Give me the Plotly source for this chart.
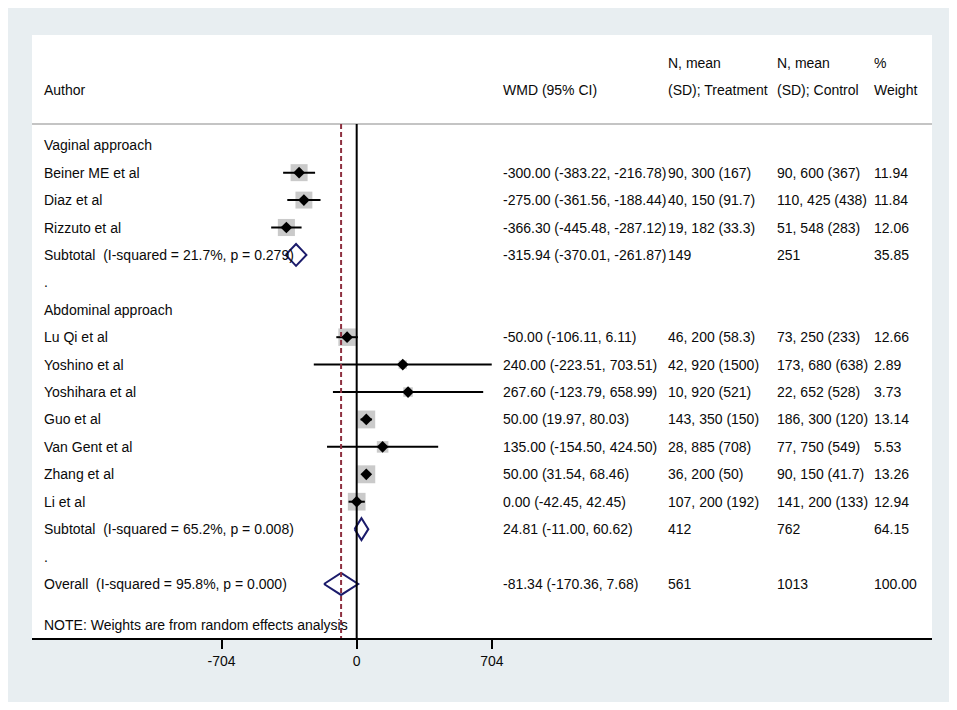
import numpy as np
import plotly.graph_objects as go

# study level data
studies = ["Beiner ME et al", "Diaz et al", "Rizzuto et al",
           "Lu Qi et al", "Yoshino et al", "Yoshihara et al", "Guo et al",
           "Van Gent et al", "Zhang et al", "Li et al"]
groups = ["Vaginal approach"] * 3 + ["Abdominal approach"] * 7
wmd = [-300.00, -275.00, -366.30, -50.00, 240.00, 267.60, 50.00, 135.00, 50.00, 0.00]
ci_low = [-383.22, -361.56, -445.48, -106.11, -223.51, -123.79, 19.97, -154.50, 31.54, -42.45]
ci_high = [-216.78, -188.44, -287.12, 6.11, 703.51, 658.99, 80.03, 424.50, 68.46, 42.45]
treatment = ["90, 300 (167)", "40, 150 (91.7)", "19, 182 (33.3)", "46, 200 (58.3)",
             "42, 920 (1500)", "10, 920 (521)", "143, 350 (150)", "28, 885 (708)",
             "36, 200 (50)", "107, 200 (192)"]
control = ["90, 600 (367)", "110, 425 (438)", "51, 548 (283)", "73, 250 (233)",
           "173, 680 (638)", "22, 652 (528)", "186, 300 (120)", "77, 750 (549)",
           "90, 150 (41.7)", "141, 200 (133)"]
weight = [11.94, 11.84, 12.06, 12.66, 2.89, 3.73, 13.14, 5.53, 13.26, 12.94]

# pooled estimates (two subtotals, then overall)
pooled_labels = ["Subtotal\u00a0 (I-squared = 21.7%, p = 0.279)",
                 "Subtotal\u00a0 (I-squared = 65.2%, p = 0.008)",
                 "Overall\u00a0 (I-squared = 95.8%, p = 0.000)"]
pooled_est = [-315.94, 24.81, -81.34]
pooled_low = [-370.01, -11.00, -170.36]
pooled_high = [-261.87, 60.62, 7.68]
pooled_treat = ["149", "412", "561"]
pooled_ctrl = ["251", "762", "1013"]
pooled_weight = [35.85, 64.15, 100.00]

tick_vals = [-704, 0, 704]
note = "NOTE: Weights are from random effects analysis"

FONT = "Arial, Liberation Sans, sans-serif"
NAVY = "#1b1b6b"

# build the row layout, one row per line of the table
rows = []  # (kind, index)
for g in dict.fromkeys(groups):
    rows.append(("group", g))
    for i, s in enumerate(studies):
        if groups[i] == g:
            rows.append(("study", i))
    rows.append(("pooled", len([r for r in rows if r[0] == "pooled"])))
    rows.append(("dot", None))
rows.append(("pooled", 2))

# text columns, given as page pixels; the plot area spans 32..932
def col(px):
    return (px - 32) / 900

c_author, c_wmd, c_treat, c_ctrl, c_w = col(42), col(501), col(666), col(775), col(872)

annotations = []

def txt(x, y, s):
    annotations.append(dict(x=x, y=y, xref="paper", yref="y", text=s, showarrow=False,
                            xanchor="left", yanchor="middle",
                            font=dict(family=FONT, size=14, color="#0a0a0a")))

# header
txt(c_author, -2, "Author")
txt(c_wmd, -2, "WMD (95% CI)")
txt(c_treat, -3, "N, mean")
txt(c_treat, -2, "(SD); Treatment")
txt(c_ctrl, -3, "N, mean")
txt(c_ctrl, -2, "(SD); Control")
txt(c_w, -3, "%")
txt(c_w, -2, "Weight")

fig = go.Figure()

study_y = {}
pooled_y = {}
for y, (kind, idx) in enumerate(rows):
    if kind == "group":
        txt(c_author, y, idx)
    elif kind == "dot":
        txt(c_author, y, ".")
    elif kind == "study":
        study_y[idx] = y
        txt(c_author, y, studies[idx])
        txt(c_wmd, y, f"{wmd[idx]:.2f} ({ci_low[idx]:.2f}, {ci_high[idx]:.2f})")
        txt(c_treat, y, treatment[idx])
        txt(c_ctrl, y, control[idx])
        txt(c_w, y, f"{weight[idx]:.2f}")
    else:
        pooled_y[idx] = y
        txt(c_author, y, pooled_labels[idx])
        txt(c_wmd, y, f"{pooled_est[idx]:.2f} ({pooled_low[idx]:.2f}, {pooled_high[idx]:.2f})")
        txt(c_treat, y, pooled_treat[idx])
        txt(c_ctrl, y, pooled_ctrl[idx])
        txt(c_w, y, f"{pooled_weight[idx]:.2f}")

txt(c_author, len(rows) + 0.5, note)

sy = [study_y[i] for i in range(len(studies))]

# weight boxes
fig.add_trace(go.Scatter(
    x=wmd, y=sy, mode="markers",
    marker=dict(symbol="square", size=[4.92 * np.sqrt(w) for w in weight],
                color="#b4b4b4", line=dict(width=0)),
    hoverinfo="skip"))

# confidence intervals
cx, cy = [], []
for i in range(len(studies)):
    cx += [ci_low[i], ci_high[i], None]
    cy += [sy[i], sy[i], None]
fig.add_trace(go.Scatter(x=cx, y=cy, mode="lines",
                         line=dict(color="black", width=2), hoverinfo="skip"))

# point estimates
fig.add_trace(go.Scatter(x=wmd, y=sy, mode="markers",
                         marker=dict(symbol="diamond", size=9, color="black"),
                         hoverinfo="skip"))

# pooled diamonds
h = 0.4
for k in range(len(pooled_est)):
    y = pooled_y[k]
    fig.add_trace(go.Scatter(
        x=[pooled_low[k], pooled_est[k], pooled_high[k], pooled_est[k], pooled_low[k]],
        y=[y, y - h, y, y + h, y],
        mode="lines", line=dict(color=NAVY, width=2), hoverinfo="skip"))

sep = -0.77
y_bottom = 17.97
shapes = [
    dict(type="line", xref="paper", yref="y", x0=0, x1=1, y0=sep, y1=sep,
         line=dict(color="#c4c4c4", width=2)),
    dict(type="line", xref="x", yref="y", x0=0, x1=0, y0=sep, y1=y_bottom,
         line=dict(color="black", width=2)),
    dict(type="line", xref="x", yref="y", x0=pooled_est[2], x1=pooled_est[2],
         y0=sep, y1=y_bottom, line=dict(color="#8e3040", width=2, dash="5px,3px")),
]

# the page adds an 8px body margin, so the figure is 16px smaller and margins
# are shifted by 8px to keep the plot area at 32..932 x 35..638 on the page
fig.update_layout(
    width=941, height=694,
    margin=dict(l=24, r=17, t=27, b=64),
    paper_bgcolor="#e8eef1",
    plot_bgcolor="white",
    showlegend=False,
    annotations=annotations,
    shapes=shapes,
    xaxis=dict(range=[-1691.4, 2996.9], tickvals=tick_vals,
               ticktext=[str(v) for v in tick_vals],
               showgrid=False, zeroline=False, showline=True,
               linecolor="black", linewidth=2,
               ticks="outside", ticklen=9, tickwidth=2, tickcolor="black",
               tickfont=dict(family=FONT, size=14, color="#0a0a0a")),
    yaxis=dict(range=[y_bottom, -4.02], showgrid=False, zeroline=False,
               showticklabels=False, ticks=""),
)

fig.write_html("out.html")
